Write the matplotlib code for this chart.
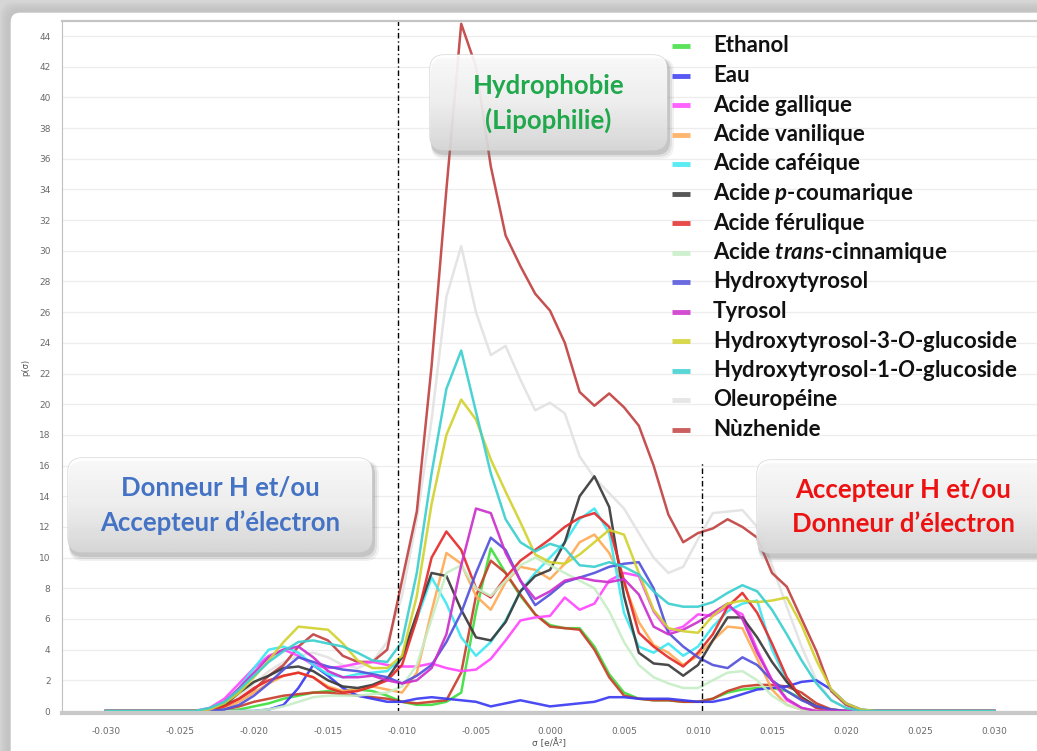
import numpy as np
import matplotlib
matplotlib.use('Agg')
import matplotlib.pyplot as plt
from matplotlib.patches import FancyBboxPatch

plt.rcParams['mathtext.fontset'] = 'custom'
plt.rcParams['mathtext.rm'] = 'Lato:bold'
plt.rcParams['mathtext.it'] = 'Lato:italic:bold'

# sigma grid, e/A^2
sigma = np.linspace(-0.030, 0.030, 61)

ethanol = [0, 0, 0, 0, 0, 0, 0, 0, 0, 0.1,
           0.3, 0.5, 0.8, 1.0, 1.2, 1.3, 1.3, 1.4, 1.3, 1.0,
           0.6, 0.4, 0.4, 0.6, 1.2, 6.5, 10.6, 9.0, 7.5, 6.3,
           5.6, 5.4, 5.4, 4.2, 2.4, 1.2, 0.8, 0.7, 0.7, 0.6,
           0.6, 0.8, 1.2, 1.4, 1.5, 1.5, 1.3, 0.8, 0.3, 0.1,
           0, 0, 0, 0, 0, 0, 0, 0, 0, 0, 0]
eau = [0, 0, 0, 0, 0, 0, 0, 0, 0, 0,
       0, 0.1, 0.4, 1.5, 3.0, 2.3, 1.5, 1.0, 0.8, 0.6,
       0.6, 0.8, 0.9, 0.8, 0.7, 0.6, 0.3, 0.5, 0.7, 0.5,
       0.3, 0.4, 0.5, 0.6, 0.9, 0.9, 0.8, 0.8, 0.8, 0.7,
       0.6, 0.6, 0.8, 1.1, 1.4, 1.5, 1.6, 1.9, 2.0, 1.4,
       0.5, 0.1, 0, 0, 0, 0, 0, 0, 0, 0, 0]
gallique = [0, 0, 0, 0, 0, 0, 0, 0.2, 0.8, 1.8,
            2.8, 3.6, 4.0, 3.6, 3.0, 2.8, 2.9, 3.1, 3.2, 3.0,
            2.9, 2.9, 3.1, 2.8, 2.6, 2.7, 3.4, 4.6, 5.9, 6.1,
            6.2, 7.4, 6.6, 7.0, 8.5, 9.0, 8.8, 6.5, 5.2, 5.5,
            6.3, 6.2, 6.8, 6.3, 4.0, 2.0, 0.7, 0.2, 0, 0,
            0, 0, 0, 0, 0, 0, 0, 0, 0, 0, 0]
vanilique = [0, 0, 0, 0, 0, 0, 0, 0, 0.2, 0.6,
             1.2, 1.8, 2.3, 2.5, 2.2, 1.6, 1.3, 1.4, 1.6, 1.4,
             1.2, 2.5, 6.5, 10.3, 9.6, 7.5, 6.6, 8.4, 9.4, 9.2,
             8.6, 9.6, 11.0, 11.5, 10.3, 8.3, 5.8, 4.3, 3.8, 3.0,
             3.6, 4.6, 5.5, 5.4, 3.4, 1.4, 0.4, 0.1, 0, 0,
             0, 0, 0, 0, 0, 0, 0, 0, 0, 0, 0]
cafeique = [0, 0, 0, 0, 0, 0, 0, 0.1, 0.5, 1.5,
            2.8, 4.0, 4.2, 3.8, 3.0, 2.4, 2.2, 2.4, 2.5, 2.6,
            3.5, 6.0, 8.7, 7.0, 4.8, 3.6, 4.5, 5.9, 7.8, 9.0,
            10.0, 11.0, 12.5, 13.2, 11.6, 6.4, 4.2, 3.8, 4.4, 3.6,
            4.2, 5.5, 6.5, 7.0, 7.2, 4.0, 2.0, 0.8, 0.2, 0,
            0, 0, 0, 0, 0, 0, 0, 0, 0, 0, 0]
coumarique = [0, 0, 0, 0, 0, 0, 0, 0.1, 0.4, 1.2,
              1.9, 2.3, 2.8, 2.9, 2.6, 2.0, 1.6, 1.5, 1.7, 2.1,
              3.5, 6.3, 9.0, 8.8, 6.6, 4.8, 4.6, 5.8, 7.8, 8.8,
              9.2, 11.0, 14.0, 15.3, 13.3, 7.5, 3.8, 3.1, 3.0, 2.3,
              3.0, 4.6, 6.1, 6.1, 4.8, 3.2, 1.9, 0.9, 0.3, 0.05,
              0, 0, 0, 0, 0, 0, 0, 0, 0, 0, 0]
ferulique = [0, 0, 0, 0, 0, 0, 0, 0, 0.3, 0.8,
             1.5, 2.0, 2.3, 2.5, 2.2, 1.5, 1.2, 1.3, 1.6, 2.0,
             3.0, 6.0, 10.0, 11.7, 10.5, 8.0, 7.4, 8.7, 9.8, 10.5,
             11.2, 12.0, 12.6, 12.9, 12.0, 8.5, 5.1, 4.2, 3.5, 2.9,
             3.8, 5.0, 6.8, 7.7, 6.4, 4.4, 2.2, 0.8, 0.2, 0,
             0, 0, 0, 0, 0, 0, 0, 0, 0, 0, 0]
cinnamique = [0, 0, 0, 0, 0, 0, 0, 0, 0, 0,
              0, 0.1, 0.3, 0.6, 0.9, 1.0, 1.0, 1.0, 1.1, 1.2,
              1.6, 3.0, 6.0, 9.0, 9.5, 8.0, 7.5, 8.5, 9.5, 10.0,
              9.5, 9.0, 8.5, 8.0, 6.5, 4.5, 3.0, 2.2, 1.8, 1.5,
              1.5, 2.0, 2.5, 2.6, 2.0, 1.0, 0.4, 0.1, 0, 0,
              0, 0, 0, 0, 0, 0, 0, 0, 0, 0, 0]
hydroxytyrosol = [0, 0, 0, 0, 0, 0, 0, 0, 0.1, 0.4,
                  1.0, 1.8, 2.7, 3.5, 3.2, 2.9, 2.7, 2.6, 2.4, 2.2,
                  1.8, 2.3, 3.0, 4.5, 6.4, 9.0, 11.3, 10.5, 8.5, 6.9,
                  7.6, 8.4, 8.7, 9.0, 9.4, 9.6, 9.7, 8.0, 5.1, 4.2,
                  3.5, 3.0, 2.8, 3.5, 3.0, 2.0, 1.3, 0.7, 0.3, 0.1,
                  0, 0, 0, 0, 0, 0, 0, 0, 0, 0, 0]
tyrosol = [0, 0, 0, 0, 0, 0, 0, 0.1, 0.6, 1.5,
           2.5, 3.5, 4.0, 4.2, 3.5, 2.6, 2.2, 2.2, 2.3, 2.0,
           1.8, 2.0, 2.8, 5.0, 9.5, 13.2, 12.9, 10.3, 8.5, 7.3,
           7.8, 8.5, 8.7, 8.5, 8.4, 8.6, 7.6, 5.5, 5.0, 5.3,
           5.8, 6.4, 7.0, 6.0, 3.8, 2.0, 0.8, 0.2, 0, 0,
           0, 0, 0, 0, 0, 0, 0, 0, 0, 0, 0]
ht3_glucoside = [0, 0, 0, 0, 0, 0, 0, 0.1, 0.5, 1.2,
                 2.2, 3.3, 4.5, 5.5, 5.4, 5.3, 4.4, 3.3, 2.8, 2.8,
                 3.6, 7.5, 13.5, 18.0, 20.3, 19.0, 16.4, 14.3, 12.3, 10.2,
                 9.7, 9.6, 10.2, 11.0, 11.8, 11.5, 9.0, 6.6, 5.4, 5.2,
                 5.1, 6.2, 7.0, 7.2, 7.1, 7.2, 7.4, 5.6, 3.3, 1.4,
                 0.5, 0.1, 0, 0, 0, 0, 0, 0, 0, 0, 0]
ht1_glucoside = [0, 0, 0, 0, 0, 0, 0, 0.2, 0.6, 1.4,
                 2.3, 3.2, 3.9, 4.5, 4.6, 4.4, 4.2, 3.8, 3.3, 3.2,
                 4.5, 9.0, 15.5, 21.0, 23.5, 19.5, 15.5, 12.5, 11.0, 10.4,
                 10.9, 10.6, 9.5, 9.4, 9.7, 9.4, 8.9, 7.8, 7.0, 6.8,
                 6.8, 7.1, 7.7, 8.2, 7.8, 6.6, 5.0, 3.3, 1.8, 0.7,
                 0.2, 0, 0, 0, 0, 0, 0, 0, 0, 0, 0]
oleuropeine = [0, 0, 0, 0, 0, 0, 0, 0.1, 0.4, 1.0,
               1.8, 2.6, 3.2, 3.6, 3.8, 3.5, 3.0, 2.8, 3.2, 4.5,
               7.5, 12.5, 19.0, 27.0, 30.3, 26.0, 23.2, 23.8, 21.6, 19.6,
               20.1, 19.4, 16.6, 15.2, 14.2, 13.2, 11.6, 10.0, 9.0, 9.4,
               11.2, 12.9, 13.0, 13.1, 12.0, 9.5, 6.8, 4.2, 2.0, 0.7,
               0.2, 0, 0, 0, 0, 0, 0, 0, 0, 0, 0]
nuzhenide = [0, 0, 0, 0, 0, 0, 0, 0.1, 0.4, 0.8,
             1.4, 2.3, 3.0, 4.2, 5.0, 4.6, 3.6, 3.2, 3.2, 4.0,
             8.5, 13.0, 22.5, 34.0, 44.8, 42.0, 35.5, 31.0, 29.0, 27.2,
             26.1, 24.0, 20.8, 19.9, 20.7, 19.8, 18.6, 16.0, 12.8, 11.0,
             11.6, 11.9, 12.5, 12.0, 11.3, 9.0, 8.1, 6.0, 3.9, 1.3,
             0.4, 0.05, 0, 0, 0, 0, 0, 0, 0, 0, 0]
# extra profile drawn without legend entry
sans_legende = [0, 0, 0, 0, 0, 0, 0, 0, 0.1, 0.3,
                0.6, 0.8, 1.0, 1.1, 1.2, 1.2, 1.1, 1.0, 0.9, 0.8,
                0.6, 0.5, 0.6, 0.7, 2.5, 7.5, 9.8, 9.0, 7.6, 6.3,
                5.5, 5.4, 5.3, 4.0, 2.2, 1.0, 0.8, 0.7, 0.7, 0.6,
                0.6, 0.8, 1.3, 1.6, 1.7, 1.7, 1.6, 1.2, 0.5, 0.1,
                0, 0, 0, 0, 0, 0, 0, 0, 0, 0, 0]

labels = ['Ethanol', 'Eau', 'Acide gallique', 'Acide vanilique', 'Acide caféique',
          'Acide $p$-coumarique', 'Acide férulique', 'Acide $trans$-cinnamique',
          'Hydroxytyrosol', 'Tyrosol', 'Hydroxytyrosol-3-$O$-glucoside',
          'Hydroxytyrosol-1-$O$-glucoside', 'Oleuropéine', 'Nùzhenide']
series = [ethanol, eau, gallique, vanilique, cafeique, coumarique, ferulique,
          cinnamique, hydroxytyrosol, tyrosol, ht3_glucoside, ht1_glucoside,
          oleuropeine, nuzhenide]
colors = ['#3fdf3f', '#3b3bf2', '#ff48ff', '#ffaa55', '#3ee8f2', '#3a3a3a', '#e52b2b',
          '#c6eec6', '#5252dc', '#cc30cc', '#d2d22e', '#3ccfcf', '#e2e2e2', '#c24242']

W, H = 1037, 751
fig = plt.figure(figsize=(W / 100, H / 100), dpi=100, facecolor='#d6d6d6')

# page background with soft shadow
bg = fig.add_axes([0, 0, 1, 1], zorder=0)
bg.set_xlim(0, W)
bg.set_ylim(H, 0)
bg.axis('off')
for k in range(10, 0, -1):
    bg.add_patch(FancyBboxPatch((10 - k, 12 - k), 1200, 1000,
                                boxstyle='round,pad=0,rounding_size=14',
                                fc='#bcbcbc', ec='none', alpha=0.10))
bg.add_patch(FancyBboxPatch((10, 12), 1200, 1000, boxstyle='round,pad=0,rounding_size=10',
                            fc='white', ec='#c4c4c4', lw=1))

# x: sigma -> 550 + 14800*sigma px ; y: value -> 711 - 15.34*v px
x0 = (61.6 - 550) / 14800
x1 = (1037 - 550) / 14800
ax = fig.add_axes([61.6 / W, 1 - 713 / H, (1037 - 61.6) / W, (713 - 21) / H], zorder=1)
ax.set_facecolor('none')
ax.set_xlim(x0, x1)
ax.set_ylim(-0.13, 44.98)

ax.set_yticks(np.arange(0, 45, 2))
ax.set_xticks(np.linspace(-0.030, 0.030, 13))
ax.set_xticklabels(['%.3f' % t for t in np.linspace(-0.030, 0.030, 13)])
ax.tick_params(length=0, labelsize=6.5, labelcolor='#6a6a6a')
ax.tick_params(axis='x', pad=10)
ax.tick_params(axis='y', pad=8)
ax.grid(axis='y', color='#ededed', lw=0.9)
ax.set_axisbelow(True)
ax.spines['right'].set_visible(False)
ax.spines['left'].set_color('#c0c0c0')
ax.spines['top'].set_color('#c4c4c4')
ax.spines['top'].set_linewidth(1.6)
ax.spines['bottom'].set_color('#c8c8c8')
ax.spines['bottom'].set_linewidth(3)

ax.set_ylabel('p(σ)', fontsize=6, color='#555555', labelpad=6)
ax.set_xlabel('σ [e/Å²]', fontsize=6.5, color='#555555', labelpad=2)

draw_order = [12, 13, 0, 1, 2, 3, 4, 5, 6, 7, 8, 9, 10, 11]
for i in draw_order:
    ax.plot(sigma, series[i], color=colors[i], lw=1.8, alpha=0.92)
    if i == 0:
        ax.plot(sigma, sans_legende, color='#c8402c', lw=1.8, alpha=0.92)

# region limits
ax.axvline(-0.0103, color='black', lw=1, ls=(0, (4, 2, 1, 2)))
ax.vlines(0.0103, 0, 16.2, color='black', lw=1, ls=(0, (4, 2, 1, 2)))

# overlay in pixel coordinates for boxes and legend
ov = fig.add_axes([0, 0, 1, 1], zorder=3)
ov.axis('off')
ov.patch.set_alpha(0)

grad = np.linspace(0, 1, 64)[:, None]
cmap = matplotlib.colors.LinearSegmentedColormap.from_list('box', ['#ffffff', '#f3f3f3', '#d9d9d9'])


def label_box(xa, ya, xb, yb, lines, color):
    for k, a in [(6, 0.10), (4, 0.15), (2, 0.25)]:
        ov.add_patch(FancyBboxPatch((xa + 1, ya + 3), xb - xa + k, yb - ya + k,
                                    boxstyle='round,pad=0,rounding_size=14',
                                    fc='#7a7a7a', ec='none', alpha=a))
    box = FancyBboxPatch((xa, ya), xb - xa, yb - ya, boxstyle='round,pad=0,rounding_size=14',
                         fc='none', ec='#d0d0d0', lw=0.8)
    ov.add_patch(box)
    im = ov.imshow(grad, cmap=cmap, extent=(xa, xb, yb, ya), aspect='auto',
                   alpha=0.9, zorder=2)
    im.set_clip_path(box)
    yc = (ya + yb) / 2
    ov.text((xa + xb) / 2, yc - 17, lines[0], ha='center', va='center', color=color,
            fontsize=18.5, family='Lato', weight='bold', zorder=4)
    ov.text((xa + xb) / 2, yc + 18, lines[1], ha='center', va='center', color=color,
            fontsize=18.5, family='Lato', weight='bold', zorder=4)


label_box(430, 55, 667, 150, ['Hydrophobie', '(Lipophilie)'], '#1fa84c')
label_box(68, 458, 372, 552, ['Donneur H et/ou', 'Accepteur d’électron'], '#4472c4')
label_box(757, 460, 1050, 553, ['Accepteur H et/ou', 'Donneur d’électron'], '#ee1111')
ov.set_xlim(0, W)
ov.set_ylim(H, 0)

# legend
for k, (lab, col) in enumerate(zip(labels, colors)):
    yk = 46 + 29.5 * k
    ov.plot([672, 690], [yk, yk], color=col, lw=3.5, alpha=0.85, solid_capstyle='butt')
    ov.text(713, yk, lab, ha='left', va='center', fontsize=16, family='Lato',
            weight='bold', color='#111111')

fig.savefig('out.png', dpi=100, facecolor=fig.get_facecolor())
